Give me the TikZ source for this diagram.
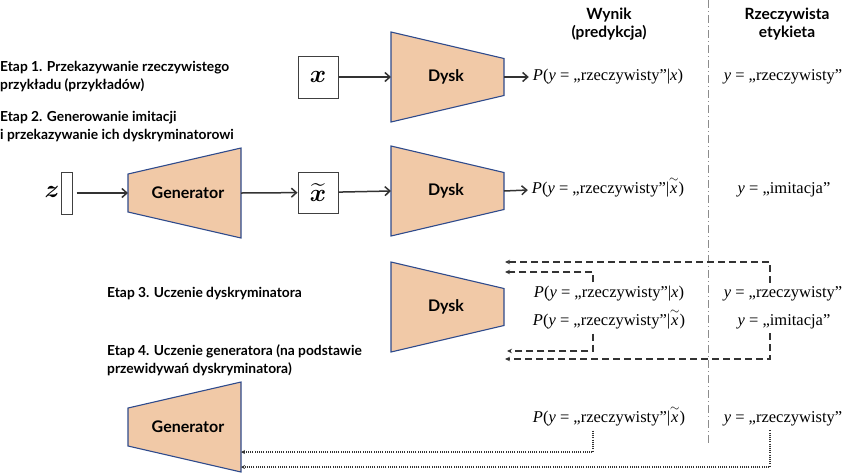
\documentclass[tikz,border=0pt]{standalone}
\usepackage{amsmath}
\usepackage{bm}
\usepackage{fontspec}
\setmainfont{Liberation Serif}
\setsansfont{Lato}
\usetikzlibrary{arrows.meta}
\definecolor{netfill}{HTML}{F1C9A7}
\definecolor{netline}{HTML}{2F4B8C}
\definecolor{arrowgray}{HTML}{333333}
\newcommand\prob[1]{\textit{P}(\textit{y} = „rzeczywisty”|#1)}
\newcommand\fakex{\(\smash{\overset{\sim}{\mbox{\textit{x}}}}\)}

\begin{document}
\begin{tikzpicture}[x=1pt,y=-1pt,
  stage/.style={anchor=west,align=left,inner sep=0pt,font=\sffamily\bfseries\fontsize{13.8}{18}\selectfont},
  head/.style={align=center,font=\sffamily\bfseries\fontsize{15.5}{18}\selectfont},
  netlabel/.style={font=\sffamily\bfseries\fontsize{16}{16}\selectfont},
  net/.style={draw=netline,fill=netfill,line width=1.1pt},
  databox/.style={draw=black!75,line width=1pt,minimum width=40pt,minimum height=42pt,inner sep=0pt,font=\fontsize{24}{24}\selectfont},
  formula/.style={inner sep=4pt,font=\fontsize{16.5}{18}\selectfont},
  flow/.style={draw=arrowgray,line width=1.5pt,-{Straight Barb[length=5pt,width=9pt]}},
  back/.style={draw=arrowgray,line width=1.1pt,dash pattern=on 7pt off 4pt,-{Stealth[length=5pt,width=4.5pt]}},
  dotback/.style={draw=arrowgray,line width=1.1pt,dash pattern=on 1pt off 1.2pt,-{Stealth[length=4pt,width=4pt]}},
  divider/.style={draw=black!45,line width=1pt,dash pattern=on 8pt off 3pt on 1pt off 3pt}]

\useasboundingbox (0,0) rectangle (842,475);

% column headers and divider
\node[head] (wynik) at (609,24) {Wynik\\(predykcja)};
\node[head] (etykieta) at (787,24) {Rzeczywista\\etykieta};
\draw[divider] (708,0) -- (708,443);

% stage captions
\node[stage] (etap1) at (0,77) {Etap 1. Przekazywanie rzeczywistego\\przykładu (przykładów)};
\node[stage] (etap2) at (0,127) {Etap 2. Generowanie imitacji\\i przekazywanie ich dyskryminatorowi};
\node[stage] (etap3) at (107,294) {Etap 3. Uczenie dyskryminatora};
\node[stage] (etap4) at (107,360) {Etap 4. Uczenie generatora (na podstawie\\przewidywań dyskryminatora)};

% discriminators
\foreach \n/\y in {dysk1/77,dysk2/191,dysk3/307}{
  \draw[net] (391,\y-45) -- (504,\y-18.5) -- (504,\y+18.5) -- (391,\y+45) -- cycle;
  \node[netlabel] (\n) at (446,\y) {Dysk};
  \coordinate (\n-in) at (391,\y);
  \coordinate (\n-out) at (504,\y);
}

% generators
\foreach \n/\y in {gen1/193,gen2/427}{
  \draw[net] (128,\y-19) -- (241,\y-45) -- (241,\y+45) -- (128,\y+19) -- cycle;
  \node[netlabel] (\n) at (188,\y) {Generator};
  \coordinate (\n-in) at (128,\y);
  \coordinate (\n-out) at (241,\y);
}

% data
\node[databox] (realx) at (318,77) {\(\bm{x}\)};
\node[databox,minimum height=41pt] (fakex) at (318,192.5) {\(\widetilde{\bm{x}}\)};
\node[draw=black!75,line width=1pt,minimum width=11pt,minimum height=42pt,inner sep=0pt] (noise) at (66.5,193) {};
\node[font=\fontsize{24}{24}\selectfont] (zlab) at (52,192) {\(\bm{z}\)};

% predictions and labels
\node[formula] (pred1) at (608,77) {\prob{\textit{x}}};
\node[formula] (lab1) at (783,77) {\textit{y} = „rzeczywisty”};
\node[formula] (pred2) at (608,190) {\prob{\fakex}};
\node[formula] (lab2) at (784,190) {\textit{y} = „imitacja”};
\node[formula] (pred3a) at (609,294) {\prob{\textit{x}}};
\node[formula] (lab3a) at (783,294) {\textit{y} = „rzeczywisty”};
\node[formula] (pred3b) at (609,322) {\prob{\fakex}};
\node[formula] (lab3b) at (784,322) {\textit{y} = „imitacja”};
\node[formula] (pred4) at (609,419) {\prob{\fakex}};
\node[formula] (lab4) at (783,419) {\textit{y} = „rzeczywisty”};

% forward pass
\draw[flow] (realx) -- (dysk1-in);
\draw[flow] (dysk1-out) -- (pred1.west);
\draw[flow, shorten <=4pt] (noise) -- (gen1-in);
\draw[flow] (gen1-out) -- (fakex);
\draw[flow] (fakex) -- (dysk2-in);
\draw[flow] (dysk2-out) -- (pred2.west);

% feedback
\coordinate (predtap) at (593,0);
\coordinate (labtap) at (770,0);
\coordinate (d3-top1) at (505,272);
\coordinate (d3-top2) at (505,262);
\coordinate (d3-bot1) at (507,351);
\coordinate (d3-bot2) at (505,359);
\coordinate (g4-a) at (241,452);
\coordinate (g4-b) at (241,467);
\draw[back] (pred3a.north -| predtap) |- (d3-top1);
\draw[back] (lab3a.north -| labtap) |- (d3-top2);
\draw[back] (pred3b.south -| predtap) |- (d3-bot1);
\draw[back] (lab3b.south -| labtap) |- (d3-bot2);
\draw[dotback] (pred4.south -| predtap) |- (g4-a);
\draw[dotback] (lab4.south -| labtap) |- (g4-b);
\end{tikzpicture}
\end{document}
